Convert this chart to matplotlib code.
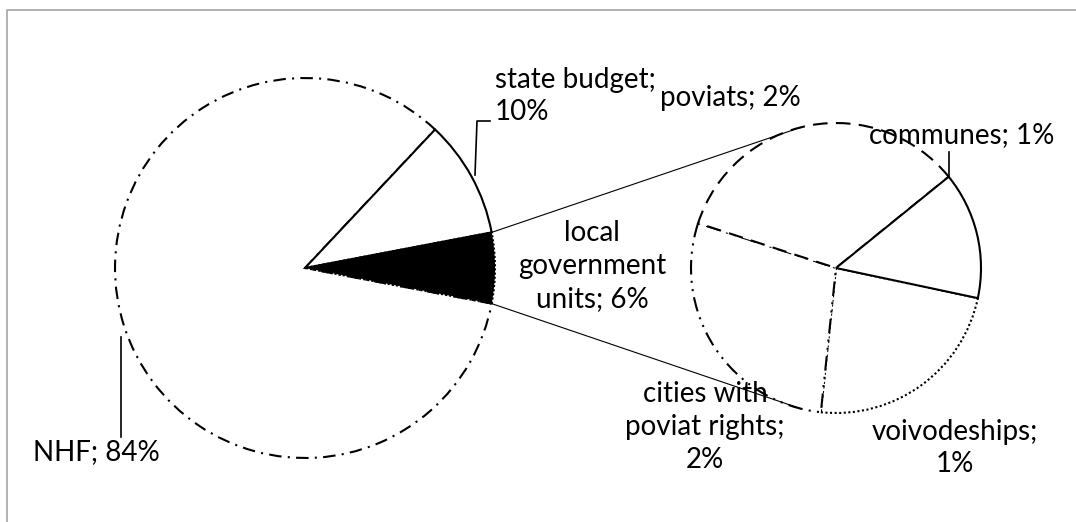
import numpy as np
import matplotlib.pyplot as plt

# main pie: order counterclockwise starting with the exploded slice
main_names = ["local\ngovernment\nunits", "state budget", "NHF"]
main_values = [6, 10, 84]
main_seps = [" ", "\n", " "]

# second pie (breakdown of local government units)
sub_names = ["voivodeships", "communes", "poviats", "cities with\npoviat rights"]
sub_values = [1.40, 0.85, 2.05, 1.70]
sub_shown = [1, 1, 2, 2]
sub_seps = ["\n", " ", " ", "\n"]

plt.rcParams['font.family'] = ['Lato', 'DejaVu Sans']

fig = plt.figure(figsize=(10.76, 5.22), dpi=100)
ax = fig.add_axes([0, 0, 1, 1])

c1, r1 = (305, 254), 190
c2, r2 = (836, 254), 145

start1 = -main_values[0] / 100 * 360 / 2
w1, _ = ax.pie(main_values, center=c1, radius=r1, startangle=start1,
               counterclock=True, colors=["black", "white", "white"],
               wedgeprops=dict(edgecolor="black", linewidth=1.5))
w1[0].set_linestyle((0, (1, 1)))
w1[1].set_linestyle("-")
w1[2].set_linestyle((0, (6, 3, 1, 3)))
w1[2].set_zorder(1)
w1[1].set_zorder(2)
w1[0].set_zorder(3)

w2, _ = ax.pie(sub_values, center=c2, radius=r2, startangle=-96,
               counterclock=True, colors=["white"] * len(sub_values),
               wedgeprops=dict(edgecolor="black", linewidth=1.5))
w2[0].set_linestyle((0, (1, 1.2)))
w2[1].set_linestyle("-")
w2[2].set_linestyle((0, (7, 4)))
w2[3].set_linestyle((0, (7, 3, 1, 3, 1, 3)))
w2[0].set_zorder(1)
w2[3].set_zorder(2)
w2[2].set_zorder(3)
w2[1].set_zorder(4)

# connector lines between the two pies
half = np.radians(main_values[0] / 100 * 360 / 2)
for s in (1, -1):
    a2 = np.radians(s * 104)
    x0 = c1[0] + r1 * np.cos(half)
    y0 = c1[1] + s * r1 * np.sin(half)
    x1 = c2[0] + r2 * np.cos(a2)
    y1 = c2[1] + r2 * np.sin(a2)
    ax.plot([x0, x1], [y0, y1], color="black", linewidth=0.8, zorder=5)

fs = 20
ls = 1.32
H = 522
main_txt = [n + ";" + s + f"{v}%" for n, v, s in zip(main_names, main_values, main_seps)]
sub_txt = [n + ";" + s + f"{v}%" for n, v, s in zip(sub_names, sub_shown, sub_seps)]

ax.text(592, H - 266, main_txt[0], ha="center", va="center", fontsize=fs, linespacing=ls)
ax.text(495, H - 96, main_txt[1], ha="left", va="center", fontsize=fs, linespacing=ls)
ax.text(96, H - 452, main_txt[2], ha="center", va="center", fontsize=fs)
ax.text(955, H - 448, sub_txt[0], ha="center", va="center", fontsize=fs, linespacing=ls)
ax.text(962, H - 135, sub_txt[1], ha="center", va="center", fontsize=fs)
ax.text(730, H - 98, sub_txt[2], ha="center", va="center", fontsize=fs)
ax.text(705, H - 427, sub_txt[3], ha="center", va="center", fontsize=fs, linespacing=ls)

# leader lines
ax.plot([121, 121], [H - 337, H - 437], color="black", linewidth=1.2)
ax.plot([475, 477, 490], [H - 175, H - 121, H - 121], color="black", linewidth=1.2)
ax.plot([949, 949], [H - 152, H - 177], color="black", linewidth=1.2)

# chart area border
ax.plot([7, 7, 1076], [0, H - 10, H - 10], color="#a6a6a6", linewidth=1.2)

ax.set_xlim(0, 1076)
ax.set_ylim(0, 522)
ax.set_aspect("equal")
ax.axis("off")

fig.savefig("out.png", dpi=100)
